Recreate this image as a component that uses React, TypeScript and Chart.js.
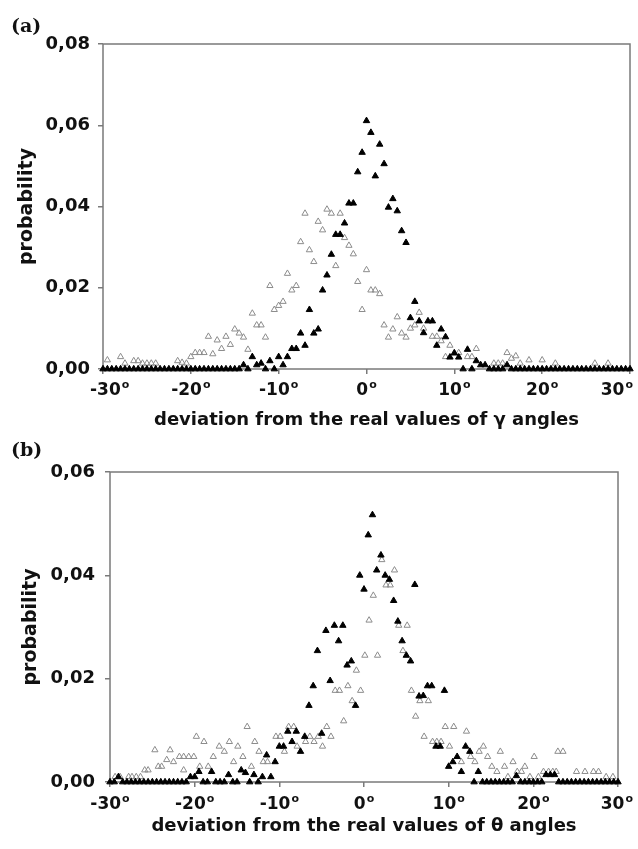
import React, { useEffect, useRef } from 'react';
import { Chart, registerables } from 'chart.js';

Chart.register(...registerables);

// ---------- data ----------
const xTickValues = [-30, -20, -10, 0, 10, 20, 30];
const gammaYMax = 0.08;
const thetaYMax = 0.06;
const yStep = 0.02;
const yTitle = 'probability';
const gammaTitle = 'deviation from the real values of γ angles';
const thetaTitle = 'deviation from the real values of θ angles';
const panelLabels = ['(a)', '(b)'];

// panel (a): filled triangles (angle deviation, probability)
const gammaFilled: [number, number][] = [
  [-30, 0], [-29.5, 0], [-29, 0], [-28.5, 0], [-28, 0], [-27.5, 0], [-27, 0], [-26.5, 0], [-26, 0], [-25.5, 0],
  [-25, 0], [-24.5, 0], [-24, 0], [-23.5, 0], [-23, 0], [-22.5, 0], [-22, 0], [-21.5, 0], [-21, 0], [-20.5, 0],
  [-20, 0], [-19.5, 0], [-19, 0], [-18.5, 0], [-18, 0], [-17.5, 0], [-17, 0], [-16.5, 0], [-16, 0], [-15.5, 0],
  [-15, 0], [-14.5, 0], [-14, 0.001], [-13.5, 0], [-13, 0.003], [-12.5, 0.001], [-12, 0.0014], [-11.5, 0], [-11, 0.002], [-10.5, 0],
  [-10, 0.003], [-9.5, 0.001], [-9, 0.003], [-8.5, 0.005], [-8, 0.005], [-7.5, 0.0088], [-7, 0.0058], [-6.5, 0.0146], [-6, 0.0088], [-5.5, 0.0098],
  [-5, 0.0194], [-4.5, 0.0231], [-4, 0.0282], [-3.5, 0.0331], [-3, 0.0331], [-2.5, 0.0359], [-2, 0.0408], [-1.5, 0.0408], [-1, 0.0485], [-0.5, 0.0533],
  [0, 0.0611], [0.5, 0.0582], [1, 0.0475], [1.5, 0.0553], [2, 0.0505], [2.5, 0.0398], [3, 0.0419], [3.5, 0.0389], [4, 0.034], [4.5, 0.0311],
  [5, 0.0126], [5.5, 0.0166], [6, 0.0118], [6.5, 0.0089], [7, 0.0118], [7.5, 0.0118], [8, 0.0058], [8.5, 0.0098], [9, 0.0079], [9.5, 0.0029],
  [10, 0.0039], [10.5, 0.0029], [11, 0], [11.5, 0.0048], [12, 0], [12.5, 0.002], [13, 0.001], [13.5, 0.001], [14, 0], [14.5, 0],
  [15, 0], [15.5, 0], [16, 0.001], [16.5, 0], [17, 0], [17.5, 0], [18, 0], [18.5, 0], [19, 0], [19.5, 0],
  [20, 0], [20.5, 0], [21, 0], [21.5, 0], [22, 0], [22.5, 0], [23, 0], [23.5, 0], [24, 0], [24.5, 0],
  [25, 0], [25.5, 0], [26, 0], [26.5, 0], [27, 0], [27.5, 0], [28, 0], [28.5, 0], [29, 0], [29.5, 0], [30, 0],
];

// panel (a): open triangles
const gammaOpen: [number, number][] = [
  [-29.5, 0.0022], [-28, 0.003], [-27.5, 0.0014], [-26.5, 0.002], [-26, 0.002], [-25.5, 0.0014], [-25, 0.0014], [-24.5, 0.0014], [-24, 0.0014],
  [-21.5, 0.002], [-21, 0.0016], [-20.5, 0.0014], [-20, 0.003], [-19.5, 0.004], [-19, 0.004], [-18.5, 0.004], [-18, 0.008], [-17.5, 0.0037],
  [-17, 0.0071], [-16.5, 0.005], [-16, 0.008], [-15.5, 0.006], [-15, 0.0098], [-14.5, 0.0088], [-14, 0.0078], [-13.5, 0.0048], [-13, 0.0137],
  [-12.5, 0.0108], [-12, 0.0108], [-11.5, 0.0078], [-11, 0.0205], [-10.5, 0.0146], [-10, 0.0156], [-9.5, 0.0166], [-9, 0.0235], [-8.5, 0.0194],
  [-8, 0.0205], [-7.5, 0.0313], [-7, 0.0383], [-6.5, 0.0293], [-6, 0.0264], [-5.5, 0.0363], [-5, 0.0342], [-4.5, 0.0393], [-4, 0.0383],
  [-3.5, 0.0254], [-3, 0.0383], [-2.5, 0.0323], [-2, 0.0304], [-1.5, 0.0283], [-1, 0.0215], [-0.5, 0.0146], [0, 0.0244], [0.5, 0.0194],
  [1, 0.0194], [1.5, 0.0185], [2, 0.0108], [2.5, 0.0078], [3, 0.0098], [3.5, 0.0128], [4, 0.0088], [4.5, 0.0078], [5, 0.01], [5.5, 0.0108],
  [6, 0.0139], [6.5, 0.01], [7.5, 0.008], [8, 0.008], [8.5, 0.0069], [9, 0.003], [9.5, 0.0058], [10, 0.004], [10.5, 0.004], [11.5, 0.003],
  [12, 0.003], [12.5, 0.005], [14.5, 0.0014], [15, 0.0014], [15.5, 0.0014], [16, 0.004], [16.5, 0.0026], [17, 0.0032], [17.5, 0.0014],
  [18.5, 0.0022], [20, 0.0022], [21.5, 0.0014], [26, 0.0014], [27.5, 0.0014],
];

// panel (b): filled triangles
const thetaFilled: [number, number][] = [
  [-30, 0], [-29.5, 0], [-29, 0.001], [-28.5, 0], [-28, 0], [-27.5, 0], [-27, 0], [-26.5, 0], [-26, 0], [-25.5, 0],
  [-25, 0], [-24.5, 0], [-24, 0], [-23.5, 0], [-23, 0], [-22.5, 0], [-22, 0], [-21.5, 0], [-21, 0], [-20.5, 0.001],
  [-20, 0.001], [-19.5, 0.002], [-19, 0], [-18.5, 0], [-18, 0.002], [-17.5, 0], [-17, 0], [-16.5, 0], [-16, 0.0014], [-15.5, 0],
  [-15, 0], [-14.5, 0.0023], [-14, 0.0018], [-13.5, 0], [-13, 0.0014], [-12.5, 0], [-12, 0.001], [-11.5, 0.0052], [-11, 0.001], [-10.5, 0.0039],
  [-10, 0.0069], [-9.5, 0.0069], [-9, 0.0098], [-8.5, 0.0078], [-8, 0.0098], [-7.5, 0.0059], [-7, 0.0088], [-6.5, 0.0148], [-6, 0.0186], [-5.5, 0.0254],
  [-5, 0.0094], [-4.5, 0.0293], [-4, 0.0196], [-3.5, 0.0303], [-3, 0.0273], [-2.5, 0.0303], [-2, 0.0226], [-1.5, 0.0234], [-1, 0.0148], [-0.5, 0.04],
  [0, 0.0373], [0.5, 0.0478], [1, 0.0517], [1.5, 0.041], [2, 0.0439], [2.5, 0.04], [3, 0.0392], [3.5, 0.0351], [4, 0.0311], [4.5, 0.0273],
  [5, 0.0245], [5.5, 0.0234], [6, 0.0382], [6.5, 0.0166], [7, 0.0167], [7.5, 0.0186], [8, 0.0186], [8.5, 0.0069], [9, 0.0069], [9.5, 0.0177],
  [10, 0.003], [10.5, 0.0039], [11, 0.0049], [11.5, 0.002], [12, 0.0069], [12.5, 0.0059], [13, 0], [13.5, 0.002], [14, 0], [14.5, 0],
  [15, 0], [15.5, 0], [16, 0], [16.5, 0], [17, 0], [17.5, 0], [18, 0.0012], [18.5, 0], [19, 0], [19.5, 0],
  [20, 0], [20.5, 0], [21, 0], [21.5, 0.0014], [22, 0.0014], [22.5, 0.0014], [23, 0], [23.5, 0], [24, 0], [24.5, 0],
  [25, 0], [25.5, 0], [26, 0], [26.5, 0], [27, 0], [27.5, 0], [28, 0], [28.5, 0], [29, 0], [29.5, 0], [30, 0],
];

// panel (b): open triangles
const thetaOpen: [number, number][] = [
  [-29.4, 0.001], [-28.8, 0.001], [-27.8, 0.001], [-27.4, 0.001], [-26.9, 0.001], [-26.4, 0.001], [-25.9, 0.0023], [-25.5, 0.0023],
  [-24.7, 0.0062], [-24.3, 0.003], [-23.9, 0.003], [-23.3, 0.0043], [-22.9, 0.0062], [-22.5, 0.0039], [-21.8, 0.0049], [-21.3, 0.0049],
  [-21.3, 0.0023], [-20.7, 0.0049], [-20.1, 0.0049], [-19.8, 0.0088], [-19.4, 0.003], [-18.9, 0.0078], [-18.4, 0.003], [-17.8, 0.0049],
  [-17.1, 0.0069], [-16.5, 0.0059], [-15.9, 0.0078], [-15.4, 0.0039], [-14.9, 0.0069], [-14.3, 0.0049], [-13.8, 0.0107], [-13.3, 0.003],
  [-12.9, 0.0078], [-12.4, 0.0059], [-11.9, 0.0039], [-11.4, 0.0039], [-10.4, 0.0088], [-9.9, 0.0088], [-9.4, 0.0059], [-8.9, 0.0107],
  [-8.3, 0.0107], [-7.9, 0.0069], [-6.9, 0.0078], [-6.4, 0.0088], [-5.9, 0.0078], [-5.4, 0.0088], [-4.9, 0.0069], [-4.4, 0.0107],
  [-3.9, 0.0088], [-3.4, 0.0177], [-2.9, 0.0177], [-2.4, 0.0118], [-1.9, 0.0186], [-1.4, 0.0157], [-0.9, 0.0216], [-0.4, 0.0177],
  [0.1, 0.0245], [0.6, 0.0313], [1.1, 0.0361], [1.6, 0.0245], [2.1, 0.043], [2.6, 0.0381], [3.1, 0.0381], [3.6, 0.041], [4.1, 0.0303],
  [4.6, 0.0254], [5.1, 0.0303], [5.6, 0.0177], [6.1, 0.0127], [6.6, 0.0157], [7.1, 0.0088], [7.6, 0.0157], [8.1, 0.0078], [8.6, 0.0078],
  [9.1, 0.0078], [9.6, 0.0107], [10.1, 0.0069], [10.6, 0.0107], [11.5, 0.0039], [12.1, 0.0098], [12.6, 0.0049], [13.1, 0.0039],
  [13.6, 0.0059], [14.1, 0.0069], [14.6, 0.0049], [15.1, 0.003], [15.7, 0.002], [16.1, 0.0059], [16.6, 0.003], [17, 0.001], [17.6, 0.0039],
  [18.1, 0.002], [18.6, 0.002], [19, 0.003], [19.6, 0.001], [20.1, 0.0049], [20.6, 0.001], [21.2, 0.002], [21.8, 0.002], [22.3, 0.002],
  [22.7, 0.002], [22.9, 0.0059], [23.5, 0.0059], [25.1, 0.002], [26.1, 0.002], [27.1, 0.002], [27.7, 0.002], [28.6, 0.001], [29.4, 0.001],
];

// ---------- styling / layout ----------
const FONT = '"DejaVu Sans", sans-serif';
const AXIS_COLOR = '#7a7a7a';
const TEXT_COLOR = '#111';
const PAGE_W = 638;
const PAGE_H = 849;

type Geom = {
  top: number; bottom: number; left: number; right: number;
  xAxisH: number; xTitlePad: number; yTitlePad: number; yTickPad: number; labelOffset: number;
  labelMin: number; labelMax: number;
};

const geomA: Geom = { top: 44, bottom: 369, left: 103, right: 630, xAxisH: 70, xTitlePad: 8, yTitlePad: 15.6, yTickPad: 8, labelOffset: 22, labelMin: 90, labelMax: 633 };
const geomB: Geom = { top: 472, bottom: 782, left: 110, right: 618, xAxisH: 65, xTitlePad: 10, yTitlePad: 19.6, yTickPad: 10, labelOffset: 23, labelMin: 90, labelMax: 633 };

function makeFramePlugin(g: Geom) {
  return {
    id: 'frameAndTicks',
    beforeDatasetsDraw(chart: any) {
      const { ctx, chartArea: a } = chart;
      const xs = chart.scales.x;
      ctx.save();
      ctx.strokeStyle = AXIS_COLOR;
      ctx.lineWidth = 1.5;
      ctx.strokeRect(a.left, a.top, a.right - a.left, a.bottom - a.top);
      const cy = a.bottom + g.labelOffset;
      ctx.fillStyle = TEXT_COLOR;
      ctx.textBaseline = 'middle';
      ctx.textAlign = 'left';
      for (const v of xTickValues) {
        const px = xs.getPixelForValue(v);
        const label = String(v);
        ctx.font = `bold 17px ${FONT}`;
        const wn = ctx.measureText(label).width;
        ctx.font = `bold 11px ${FONT}`;
        const wo = ctx.measureText('o').width;
        const total = wn + wo + 1;
        let x0 = px - total / 2;
        if (x0 < g.labelMin) x0 = g.labelMin;
        if (x0 + total > g.labelMax) x0 = g.labelMax - total;
        ctx.font = `bold 17px ${FONT}`;
        ctx.fillText(label, x0, cy);
        ctx.font = `bold 11px ${FONT}`;
        ctx.fillText('o', x0 + wn + 1, cy - 6);
      }
      ctx.restore();
    },
  };
}

function buildChart(canvas: HTMLCanvasElement, filled: [number, number][], open: [number, number][], yMax: number, xTitle: string, g: Geom) {
  return new Chart(canvas, {
    type: 'scatter',
    data: {
      datasets: [
        {
          data: filled.map(([x, y]) => ({ x, y })),
          pointStyle: 'triangle',
          pointRadius: 3.7,
          backgroundColor: '#000',
          borderColor: '#000',
          borderWidth: 1,
          clip: false,
          order: 0,
        } as any,
        {
          data: open.map(([x, y]) => ({ x, y })),
          pointStyle: 'triangle',
          pointRadius: 3.6,
          backgroundColor: 'rgba(255,255,255,0)',
          borderColor: '#8c8c8c',
          borderWidth: 1,
          clip: false,
          order: 1,
        } as any,
      ],
    },
    options: {
      responsive: false,
      animation: false,
      devicePixelRatio: 1,
      layout: { padding: { left: 0, top: g.top, right: PAGE_W - g.right, bottom: PAGE_H - g.bottom - g.xAxisH } },
      plugins: { legend: { display: false }, tooltip: { enabled: false } },
      scales: {
        x: {
          type: 'linear',
          min: -30,
          max: 30,
          ticks: { stepSize: 10, callback: () => '' },
          grid: { drawOnChartArea: false, drawTicks: true, tickLength: 5, color: AXIS_COLOR, lineWidth: 1.5 },
          border: { display: false },
          title: {
            display: true,
            text: xTitle,
            color: TEXT_COLOR,
            font: { family: FONT, size: 18, weight: 'bold' },
            padding: { top: 0, bottom: g.xTitlePad },
          },
          afterFit: (s: any) => { s.height = g.xAxisH; },
        },
        y: {
          type: 'linear',
          min: 0,
          max: yMax,
          ticks: {
            stepSize: yStep,
            callback: (v: any) => Number(v).toFixed(2).replace('.', ','),
            color: TEXT_COLOR,
            font: { family: FONT, size: 18, weight: 'bold' },
            padding: g.yTickPad,
          },
          grid: { drawOnChartArea: false, drawTicks: true, tickLength: 5, color: AXIS_COLOR, lineWidth: 1.5 },
          border: { display: false },
          title: {
            display: true,
            text: yTitle,
            color: TEXT_COLOR,
            font: { family: FONT, size: 19, weight: 'bold' },
            padding: { top: g.yTitlePad, bottom: 0 },
          },
          afterFit: (s: any) => { s.width = g.left; },
        },
      },
    } as any,
    plugins: [makeFramePlugin(g)],
  });
}

export default function App() {
  const refA = useRef<HTMLCanvasElement>(null);
  const refB = useRef<HTMLCanvasElement>(null);

  useEffect(() => {
    const cA = buildChart(refA.current!, gammaFilled, gammaOpen, gammaYMax, gammaTitle, geomA);
    const cB = buildChart(refB.current!, thetaFilled, thetaOpen, thetaYMax, thetaTitle, geomB);
    return () => { cA.destroy(); cB.destroy(); };
  }, []);

  const canvasStyle: React.CSSProperties = { position: 'absolute', left: 0, top: 0, width: PAGE_W, height: PAGE_H };
  const labelStyle: React.CSSProperties = {
    position: 'absolute', left: 11, font: 'bold 19px "DejaVu Serif", serif', lineHeight: '22px', color: '#111',
  };

  return (
    <div style={{ position: 'absolute', left: 0, top: 0, width: PAGE_W, height: PAGE_H, background: '#fff' }}>
      <canvas ref={refA} width={PAGE_W} height={PAGE_H} style={canvasStyle} />
      <canvas ref={refB} width={PAGE_W} height={PAGE_H} style={canvasStyle} />
      <div style={{ ...labelStyle, top: 14 }}>{panelLabels[0]}</div>
      <div style={{ ...labelStyle, top: 438 }}>{panelLabels[1]}</div>
    </div>
  );
}
